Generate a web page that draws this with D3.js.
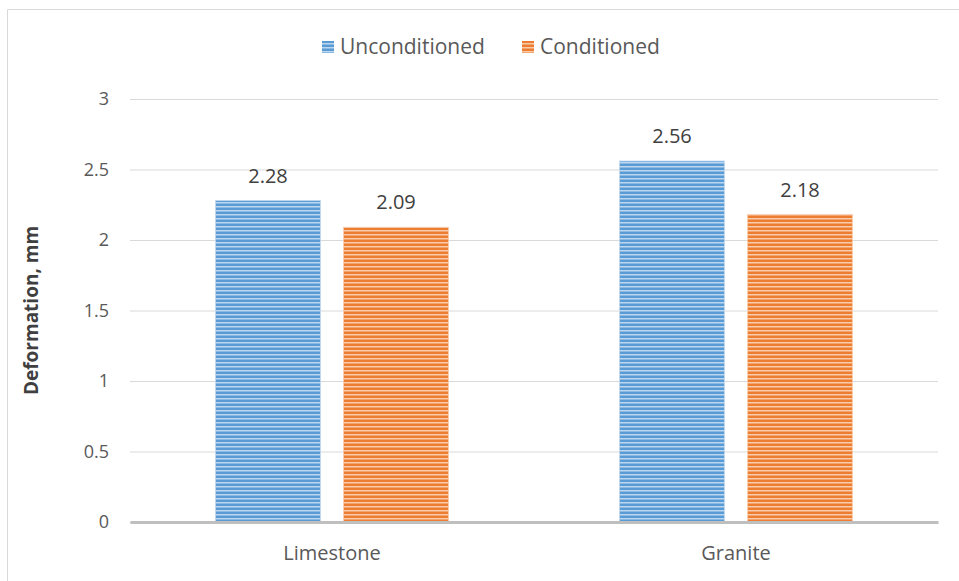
<!DOCTYPE html>
<html>
<head>
<meta charset="utf-8">
<script src="https://cdn.jsdelivr.net/npm/d3@7"></script>
<style>
  body { margin: 0; background: #fff; }
  text { font-family: "Open Sans", "Noto Sans", sans-serif; }
</style>
</head>
<body>
<svg id="chart" width="959" height="581"></svg>
<script>
const categories = ["Limestone", "Granite"];
const seriesNames = ["Unconditioned", "Conditioned"];
const unconditioned = [2.28, 2.56];
const conditioned = [2.09, 2.18];
const yTicks = [0, 0.5, 1, 1.5, 2, 2.5, 3];

const seriesValues = [unconditioned, conditioned];
const colors = ["#5b9bd5", "#ed7d31"];
const lightColors = ["#bdd7ee", "#f8cbad"];

const width = 959, height = 581;
const margin = { top: 99, right: 21, bottom: 59, left: 130 };
const svg = d3.select("#chart");

// frame of the chart area
svg.append("path")
  .attr("d", `M7.5,${height} V9.5 H${width}`)
  .attr("fill", "none").attr("stroke", "#d9d9d9").attr("stroke-width", 1);

// striped fills
const defs = svg.append("defs");
seriesNames.forEach((s, i) => {
  const p = defs.append("pattern")
    .attr("id", "stripe" + i)
    .attr("patternUnits", "userSpaceOnUse")
    .attr("width", 8).attr("height", 4);
  p.append("rect").attr("width", 8).attr("height", 4).attr("fill", colors[i]);
  p.append("rect").attr("y", 2).attr("width", 8).attr("height", 1.5).attr("fill", lightColors[i]);
});

const x0 = d3.scaleBand().domain(categories).range([margin.left, width - margin.right]);
const x1 = d3.scaleBand().domain(seriesNames).range([0, x0.bandwidth()])
  .paddingInner(0.18).paddingOuter(0.668);
const y = d3.scaleLinear().domain([0, 3]).range([height - margin.bottom, margin.top]);

// grid + y labels
svg.append("g").attr("transform", `translate(${margin.left},0)`)
  .call(d3.axisLeft(y).tickValues(yTicks).tickFormat(d3.format("~g"))
    .tickSize(-(width - margin.left - margin.right)).tickPadding(21))
  .call(g => g.select(".domain").remove())
  .call(g => g.selectAll(".tick line").attr("stroke", "#d9d9d9"))
  .call(g => g.selectAll(".tick text").attr("fill", "#595959").style("font-size", "18px"));

// bars
const groups = svg.append("g").selectAll("g").data(categories).join("g")
  .attr("transform", d => `translate(${x0(d)},0)`);

groups.selectAll("rect")
  .data((c, ci) => seriesNames.map((s, si) => ({ s, si, v: seriesValues[si][ci] })))
  .join("rect")
  .attr("x", d => x1(d.s))
  .attr("width", x1.bandwidth())
  .attr("y", d => y(d.v))
  .attr("height", d => y(0) - y(d.v))
  .attr("fill", d => `url(#stripe${d.si})`)
  .attr("stroke", d => lightColors[d.si]).attr("stroke-width", 0.8);

groups.selectAll("text.val")
  .data((c, ci) => seriesNames.map((s, si) => ({ s, si, v: seriesValues[si][ci] })))
  .join("text")
  .attr("class", "val")
  .attr("x", d => x1(d.s) + x1.bandwidth() / 2)
  .attr("y", d => y(d.v) - 18)
  .attr("text-anchor", "middle")
  .attr("fill", "#404040")
  .style("font-size", "20px")
  .text(d => d3.format(".2f")(d.v));

// x axis
svg.append("g").attr("transform", `translate(0,${y(0)})`)
  .call(d3.axisBottom(x0).tickSize(0).tickPadding(24))
  .call(g => g.select(".domain").attr("stroke", "#bfbfbf").attr("stroke-width", 3))
  .call(g => g.selectAll(".tick text").attr("fill", "#595959").style("font-size", "20px"));

// y title
svg.append("text")
  .attr("transform", `translate(38,${(y(0) + y(3)) / 2}) rotate(-90)`)
  .attr("text-anchor", "middle")
  .attr("fill", "#404040")
  .style("font-size", "19px").style("font-weight", "bold")
  .text("Deformation, mm");

// legend
const legendX = [322, 522];
const legend = svg.append("g").selectAll("g").data(seriesNames).join("g")
  .attr("transform", (d, i) => `translate(${legendX[i]},41)`);
legend.append("rect").attr("width", 12).attr("height", 12)
  .attr("fill", (d, i) => `url(#stripe${i})`);
legend.append("text").attr("x", 18).attr("y", 13)
  .attr("fill", "#595959").style("font-size", "21px")
  .text(d => d);
</script>
</body>
</html>
